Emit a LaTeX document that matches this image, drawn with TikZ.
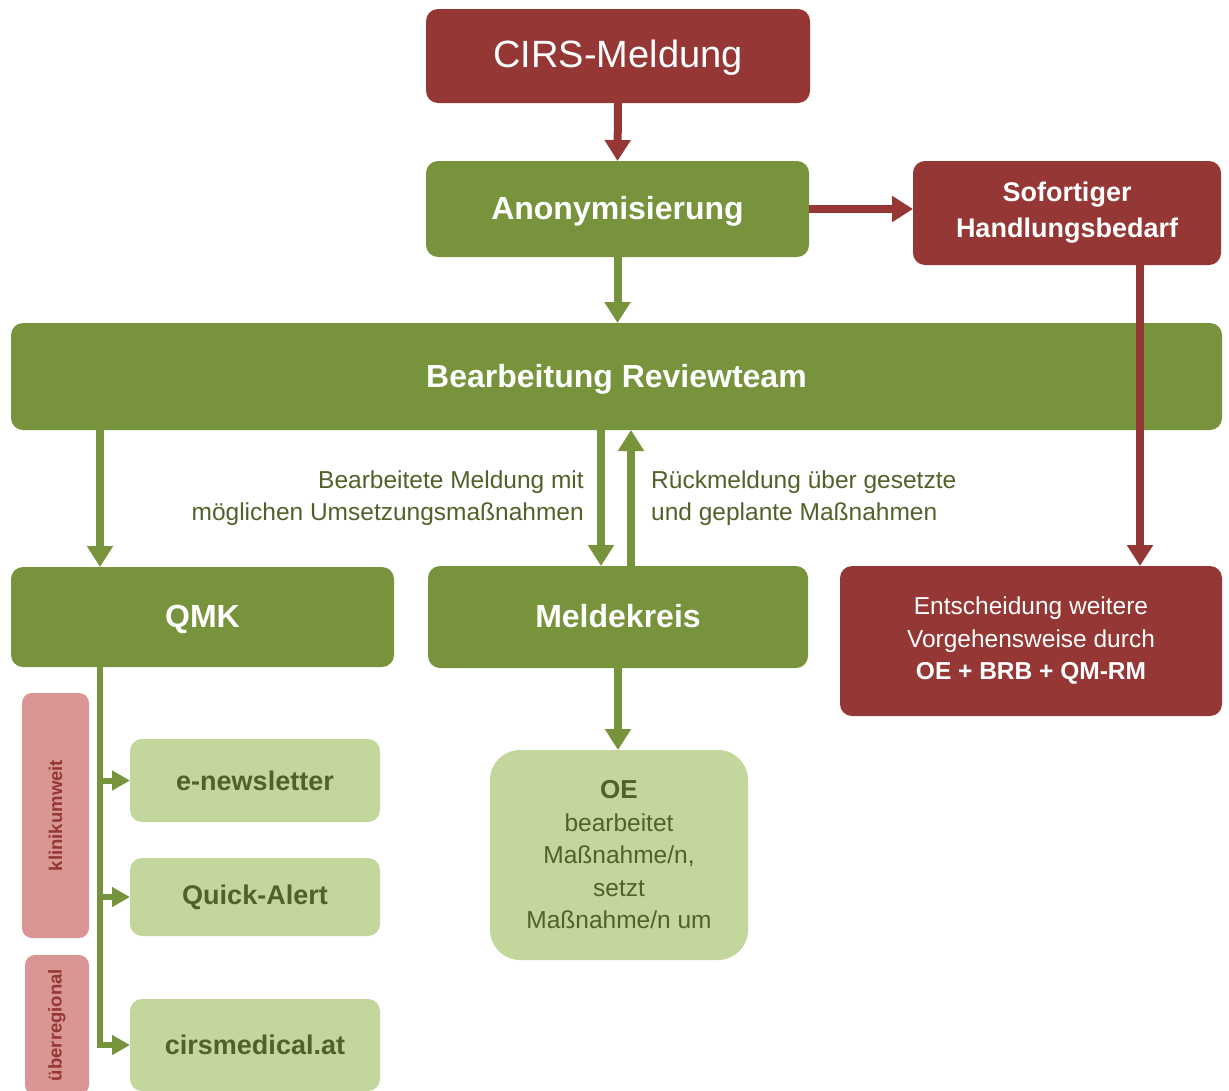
\documentclass[tikz,border=0pt]{standalone}
\usepackage{fontspec}
\setmainfont{Liberation Sans}
\usetikzlibrary{arrows.meta}
\definecolor{cirsRed}{HTML}{953735}
\definecolor{cirsGreen}{HTML}{77933C}
\definecolor{cirsLight}{HTML}{C3D69B}
\definecolor{cirsPink}{HTML}{D99694}
\definecolor{cirsText}{HTML}{4F6228}
\newcommand{\bigText}[0]{\fontsize{32}{38}\selectfont\bfseries}
\newcommand{\midText}[0]{\fontsize{27}{36}\selectfont\bfseries}
\newcommand{\smallText}[0]{\fontsize{24.5}{32.5}\selectfont}
\newcommand{\arrowHead}[0]{Triangle[width=25pt,length=21pt]}

\begin{document}
\begin{tikzpicture}[x=1pt, y=-1pt,
    box/.style={rounded corners=12pt, inner sep=0pt, outer sep=0pt, align=center},
    redbox/.style={box, fill=cirsRed, text=white},
    greenbox/.style={box, fill=cirsGreen, text=white, font=\bigText, text depth=2pt},
    lightbox/.style={box, fill=cirsLight, text=cirsText, font=\midText},
    pinkbox/.style={rounded corners=10pt, fill=cirsPink, text=cirsRed, inner sep=0pt,
      font=\fontsize{18.5}{20}\selectfont\bfseries},
    rarrow/.style={draw=cirsRed, line width=8pt, -{\arrowHead}, fill=cirsRed},
    garrow/.style={draw=cirsGreen, line width=8pt, -{\arrowHead}, fill=cirsGreen},
    branch/.style={draw=cirsGreen, line width=6pt, -{Triangle[width=19pt,length=18pt]}},
    note/.style={text=cirsText, font=\smallText, inner sep=0pt}]
  \useasboundingbox (0,0) rectangle (1229,1090);
  \begin{scope}
    \clip (0,0) rectangle (1229,1090);
    \node[redbox, minimum width=384pt, minimum height=94pt, text depth=4pt,
      font=\fontsize{38}{44}\selectfont] (cirs) at (618,56) {CIRS-Meldung};
    \node[greenbox, minimum width=383pt, minimum height=96pt] (anon) at (617.5,209) {Anonymisierung};
    \node[redbox, minimum width=308pt, minimum height=104pt, font=\midText] (sof) at (1067,213)
      {Sofortiger\\Handlungsbedarf};
    \node[greenbox, minimum width=1211pt, minimum height=107pt] (review) at (616.5,376.5)
      {Bearbeitung Reviewteam};
    \node[greenbox, minimum width=383pt, minimum height=100pt] (qmk) at (202.5,617) {QMK};
    \node[greenbox, minimum width=380pt, minimum height=102pt] (meld) at (618,617) {Meldekreis};
    \node[redbox, minimum width=382pt, minimum height=150pt, font=\smallText] (ent) at (1031,641)
      {Entscheidung weitere\\Vorgehensweise durch\\\textbf{OE + BRB + QM-RM}};
    \node[lightbox, rounded corners=30pt, minimum width=258pt, minimum height=210pt,
      font=\smallText] (oe) at (619,855)
      {{\fontsize{26}{32.5}\selectfont\bfseries OE}\\bearbeitet\\Maßnahme/n,\\setzt\\Maßnahme/n um};
    \node[lightbox, minimum width=250pt, minimum height=83pt] (news) at (255,780.5) {e-newsletter};
    \node[lightbox, minimum width=250pt, minimum height=78pt] (quick) at (255,897) {Quick-Alert};
    \node[lightbox, minimum width=250pt, minimum height=92pt] (cirsmed) at (255,1045) {cirsmedical.at};
    \node[pinkbox, minimum width=67pt, minimum height=245pt] (klinik) at (55.5,815.5)
      {\rotatebox{90}{klinikumweit}};
    \node[pinkbox, minimum width=64pt, minimum height=140pt] (ueber) at (57,1025)
      {\rotatebox{90}{überregional}};
  \end{scope}
  \node[note, anchor=east, align=right] (down) at (584,498)
    {Bearbeitete Meldung mit\\möglichen Umsetzungsmaßnahmen};
  \node[note, anchor=west, align=left] (up) at (651,498)
    {Rückmeldung über gesetzte\\und geplante Maßnahmen};
  \coordinate (trunk) at ([xshift=-102.5pt]qmk.south);
  \coordinate (drop) at ([xshift=73pt]sof.south);
  \draw[rarrow] (cirs.south) -- (anon.north);
  \draw[rarrow] (anon.east) -- (anon.east -| sof.west);
  \draw[rarrow] (drop) -- (drop |- ent.north);
  \draw[garrow] (anon.south) -- (anon.south |- review.north);
  \draw[garrow] (review.south -| trunk) -- (qmk.north -| trunk);
  \draw[garrow] ([xshift=-17pt]meld.north |- review.south) -- ([xshift=-17pt]meld.north);
  \draw[garrow] ([xshift=13pt]meld.north) -- ([xshift=13pt]meld.north |- review.south);
  \draw[garrow] (meld.south) -- (meld.south |- oe.north);
  \draw[branch] (trunk) |- (cirsmed.west);
  \draw[branch] (trunk |- news.west) -- (news.west);
  \draw[branch] (trunk |- quick.west) -- (quick.west);
\end{tikzpicture}
\end{document}
